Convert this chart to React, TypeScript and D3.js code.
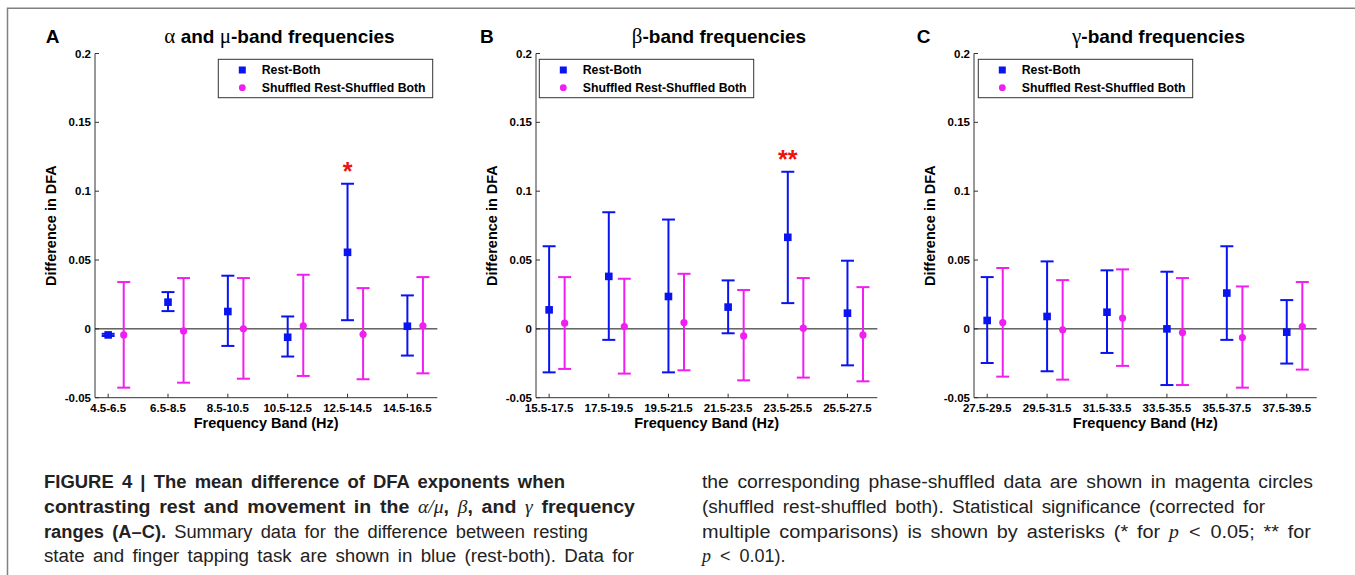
import React from 'react';
import * as d3 from 'd3';

// values (difference in DFA exponent)
const yTicks = [-0.05, 0, 0.05, 0.1, 0.15, 0.2];
const yTickLabels = ['-0.05', '0', '0.05', '0.1', '0.15', '0.2'];
const legendLabels = ['Rest-Both', 'Shuffled Rest-Shuffled Both'];
const panelLetters = ['A', 'B', 'C'];
// title pieces: [greek, text, greek, text]
const panelTitles = [
  ['α', ' and ', 'μ', '-band frequencies'],
  ['β', '-band frequencies', '', ''],
  ['γ', '-band frequencies', '', ''],
];

const bandsA = ['4.5-6.5', '6.5-8.5', '8.5-10.5', '10.5-12.5', '12.5-14.5', '14.5-16.5'];
const restMeanA = [-0.0044, 0.0194, 0.0126, -0.0061, 0.0556, 0.0019];
const restLowA = [-0.0052, 0.0129, -0.0124, -0.0201, 0.0063, -0.0194];
const restHighA = [-0.0036, 0.0267, 0.0386, 0.009, 0.1054, 0.0243];
const shufMeanA = [-0.0044, -0.0015, 0, 0.0022, -0.0039, 0.0022];
const shufLowA = [-0.0427, -0.0391, -0.0362, -0.0342, -0.0366, -0.0323];
const shufHighA = [0.034, 0.0369, 0.0369, 0.0393, 0.0296, 0.0376];
const starsA = ['', '', '', '', '*', ''];

const bandsB = ['15.5-17.5', '17.5-19.5', '19.5-21.5', '21.5-23.5', '23.5-25.5', '25.5-27.5'];
const restMeanB = [0.0138, 0.0381, 0.0235, 0.0158, 0.0665, 0.0114];
const restLowB = [-0.0316, -0.008, -0.0316, -0.0032, 0.0187, -0.0265];
const restHighB = [0.06, 0.0847, 0.0794, 0.0352, 0.1141, 0.0495];
const shufMeanB = [0.0041, 0.0017, 0.0046, -0.0051, 0.0005, -0.0044];
const shufLowB = [-0.0291, -0.0325, -0.0301, -0.0374, -0.0354, -0.0381];
const shufHighB = [0.0376, 0.0364, 0.04, 0.0282, 0.0369, 0.0303];
const starsB = ['', '', '', '', '**', ''];

const bandsC = ['27.5-29.5', '29.5-31.5', '31.5-33.5', '33.5-35.5', '35.5-37.5', '37.5-39.5'];
const restMeanC = [0.0061, 0.009, 0.0121, 0, 0.026, -0.0024];
const restLowC = [-0.0248, -0.0308, -0.0175, -0.0408, -0.008, -0.0252];
const restHighC = [0.0376, 0.049, 0.0425, 0.0415, 0.06, 0.0209];
const shufMeanC = [0.0046, -0.0007, 0.0078, -0.0027, -0.0063, 0.0017];
const shufLowC = [-0.0347, -0.0369, -0.0269, -0.0408, -0.0427, -0.0296];
const shufHighC = [0.0442, 0.0354, 0.0432, 0.0369, 0.0308, 0.034];
const starsC = ['', '', '', '', '', ''];

const panels = [
  { bands: bandsA, rm: restMeanA, rl: restLowA, rh: restHighA, sm: shufMeanA, sl: shufLowA, sh: shufHighA, stars: starsA },
  { bands: bandsB, rm: restMeanB, rl: restLowB, rh: restHighB, sm: shufMeanB, sl: shufLowB, sh: shufHighB, stars: starsB },
  { bands: bandsC, rm: restMeanC, rl: restLowC, rh: restHighC, sm: shufMeanC, sl: shufLowC, sh: shufHighC, stars: starsC },
];

// layout
const W = 1355;
const H = 575;
const axisLeft = [95, 536, 974];
const axisRight = [437.3, 877.3, 1316.7];
const titleX = [279.5, 719, 1158.5];
const letterX = [45.7, 480, 916.7];
const legendX = [218.3, 539.3, 978.3];
const BLUE = '#0a14f0';
const MAGENTA = '#f01ef0';
const chartFont = '"Liberation Sans", Arial, Helvetica, sans-serif';
const mathFont = '"Liberation Serif", "DejaVu Serif", serif';
const SP = '\u2002';

const y = d3.scaleLinear().domain([-0.05, 0.2]).range([397.7, 53.5]);

const ErrBar: React.FC<{ x: number; lo: number; hi: number; color: string }> = ({ x, lo, hi, color }) => (
  <g stroke={color} strokeWidth={2} fill="none">
    <line x1={x} x2={x} y1={y(lo)} y2={y(hi)} />
    <line x1={x - 6.5} x2={x + 6.5} y1={y(lo)} y2={y(lo)} />
    <line x1={x - 6.5} x2={x + 6.5} y1={y(hi)} y2={y(hi)} />
  </g>
);

const Panel: React.FC<{ i: number }> = ({ i }) => {
  const p = panels[i];
  const x = d3.scaleLinear().domain([0.78, 6.5]).range([axisLeft[i], axisRight[i]]);
  const left = axisLeft[i];
  const right = axisRight[i];
  const bottom = y(-0.05);
  const idx = d3.range(1, p.bands.length + 1);
  const lx = legendX[i];
  const t = panelTitles[i];
  return (
    <g fontFamily={chartFont} fontWeight="bold">
      <text x={letterX[i]} y={42.7} fontSize={19}>{panelLetters[i]}</text>
      <text x={titleX[i]} y={42.7} fontSize={19} textAnchor="middle">
        <tspan fontFamily={mathFont} fontWeight="normal" fontSize={21}>{t[0]}</tspan>
        <tspan>{t[1]}</tspan>
        {t[2] && <tspan fontFamily={mathFont} fontWeight="normal" fontSize={21}>{t[2]}</tspan>}
        {t[3] && <tspan>{t[3]}</tspan>}
      </text>

      {/* axes */}
      <line x1={left} x2={left} y1={bottom} y2={y(0.2)} stroke="#333" strokeWidth={1} />
      <line x1={left} x2={right} y1={bottom} y2={bottom} stroke="#333" strokeWidth={1} />
      <line x1={left} x2={right} y1={y(0)} y2={y(0)} stroke="#111" strokeWidth={1} />
      {yTicks.map((tk, k) => (
        <g key={k}>
          <line x1={left} x2={left + 4} y1={y(tk)} y2={y(tk)} stroke="#333" />
          <text x={left - 4} y={y(tk)} dy="0.35em" textAnchor="end" fontSize={11.5}>{yTickLabels[k]}</text>
        </g>
      ))}
      {idx.map((v, k) => (
        <g key={k}>
          <line x1={x(v)} x2={x(v)} y1={bottom} y2={bottom - 4} stroke="#333" />
          <text x={x(v)} y={412} textAnchor="middle" fontSize={11.5}>{p.bands[k]}</text>
        </g>
      ))}
      <text x={(left + right) / 2} y={428} textAnchor="middle" fontSize={14.5}>Frequency Band (Hz)</text>
      <text transform={`translate(${left - 44},${(bottom + y(0.2)) / 2}) rotate(-90)`} textAnchor="middle" dy="0.35em" fontSize={14.5}>Difference in DFA</text>

      {/* data */}
      {idx.map((v, k) => (
        <g key={k}>
          <ErrBar x={x(v)} lo={p.rl[k]} hi={p.rh[k]} color={BLUE} />
          <rect x={x(v) - 3.8} y={y(p.rm[k]) - 3.8} width={7.6} height={7.6} fill={BLUE} />
          <ErrBar x={x(v + 0.26)} lo={p.sl[k]} hi={p.sh[k]} color={MAGENTA} />
          <circle cx={x(v + 0.26)} cy={y(p.sm[k])} r={3.6} fill={MAGENTA} />
          {p.stars[k] && (
            <text x={x(v)} y={y(p.rh[k]) - 19} dy="0.62em" textAnchor="middle" fontSize={25} fill="#ee1111">{p.stars[k]}</text>
          )}
        </g>
      ))}

      {/* legend */}
      <rect x={lx} y={59.3} width={214.4} height={38.4} fill="#fff" stroke="#333" strokeWidth={1} />
      <rect x={lx + 20.5} y={66.5} width={7} height={7} fill={BLUE} />
      <circle cx={lx + 24} cy={87.7} r={3.4} fill={MAGENTA} />
      <text x={lx + 43.4} y={74.4} fontSize={12.3}>{legendLabels[0]}</text>
      <text x={lx + 43.4} y={92.1} fontSize={12.3}>{legendLabels[1]}</text>
    </g>
  );
};

const Line: React.FC<{ x: number; y: number; w: number; children: React.ReactNode }> = ({ x, y: yy, w, children }) => (
  <text x={x} y={yy} textLength={w} lengthAdjust="spacingAndGlyphs" fontSize={18} wordSpacing={3} fontFamily={chartFont}>
    {children}
  </text>
);

const M: React.FC<{ children: React.ReactNode }> = ({ children }) => (
  <tspan fontFamily={mathFont} fontStyle="italic" fontWeight="normal">{children}</tspan>
);

const App: React.FC = () => {
  const base = [488, 513, 538, 562];
  return (
    <svg width={W} height={H} style={{ position: 'absolute', left: 0, top: 0, background: '#fff' }}>
      <rect width={W} height={H} fill="#fff" />
      <polyline points={`7.5,${H} 7.5,8.3 ${W},8.3`} fill="none" stroke="#808080" strokeWidth={1.5} />
      {[0, 1, 2].map(i => <Panel key={i} i={i} />)}

      <g fill="#222">
        <Line x={44} y={base[0]} w={521}>
          <tspan fontWeight="bold">FIGURE 4 | The mean difference of DFA exponents when</tspan>
        </Line>
        <Line x={44} y={base[1]} w={591}>
          <tspan fontWeight="bold">contrasting rest and movement in the </tspan>
          <M>α/μ</M><tspan fontWeight="bold">, </tspan><M>β</M>
          <tspan fontWeight="bold">, and </tspan><M>γ</M>
          <tspan fontWeight="bold"> frequency</tspan>
        </Line>
        <Line x={44} y={base[2]} w={544}>
          <tspan fontWeight="bold">ranges (A–C).</tspan> Summary data for the difference between resting
        </Line>
        <Line x={44} y={base[3]} w={590}>
          state and finger tapping task are shown in blue (rest-both). Data for
        </Line>

        <Line x={702} y={base[0]} w={611}>
          the corresponding phase-shuffled data are shown in magenta circles
        </Line>
        <Line x={702} y={base[1]} w={563}>
          (shuffled rest-shuffled both). Statistical significance (corrected for
        </Line>
        <Line x={702} y={base[2]} w={609}>
          {`multiple comparisons) is shown by asterisks (* for `}<M>p</M>{`${SP}<${SP}0.05; ** for`}
        </Line>
        <text x={702} y={base[3]} fontSize={18} fontFamily={chartFont} fill="#222">
          <M>p</M>{`${SP}<${SP}0.01).`}
        </text>
      </g>
    </svg>
  );
};

export default App;
